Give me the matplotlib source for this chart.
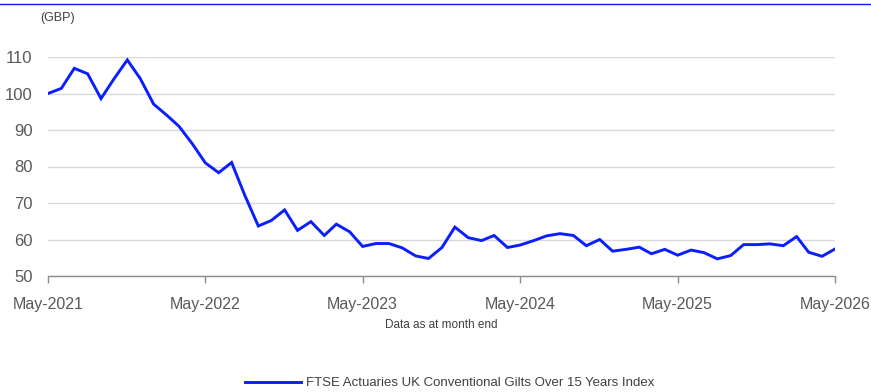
import matplotlib
matplotlib.use("Agg")
import matplotlib.pyplot as plt
import matplotlib.dates as mdates
from matplotlib.lines import Line2D
import pandas as pd

plt.rcParams['font.family'] = ['Liberation Sans', 'DejaVu Sans']

# monthly index values, May-2021 .. May-2026
values = [100.0, 101.4, 106.9, 105.4, 98.6, 104.0, 109.2, 104.1, 97.1, 94.0,
          91.0, 86.2, 81.0, 78.3, 81.1, 72.0, 63.7, 65.2, 68.1, 62.5,
          64.9, 61.1, 64.2, 62.1, 58.1, 58.9, 58.9, 57.7, 55.5, 54.8,
          57.8, 63.4, 60.5, 59.7, 61.1, 57.8, 58.5, 59.7, 61.0, 61.6,
          61.1, 58.3, 60.0, 56.8, 57.3, 57.9, 56.1, 57.3, 55.7, 57.1,
          56.4, 54.7, 55.6, 58.6, 58.6, 58.8, 58.3, 60.8, 56.5, 55.4,
          57.4]
months = pd.date_range('2021-05-01', periods=len(values), freq='MS')
series_name = 'FTSE Actuaries UK Conventional Gilts Over 15 Years Index'
y_ticks = [50, 60, 70, 80, 90, 100, 110]

blue = '#0A1EFF'
grey_txt = '#595959'

fig = plt.figure(figsize=(8.71, 3.92), dpi=100)
ax = fig.add_axes([48/871, 1 - 276/392, (835 - 48)/871, (276 - 57)/392])

ax.plot(months, values, color=blue, lw=2.1, label=series_name, solid_joinstyle='miter')

ax.set_xlim(months[0], months[-1])
ax.set_ylim(50, 110)
ax.set_yticks(y_ticks)
ax.yaxis.grid(True, color='#d9d9d9', lw=1.0)
ax.set_axisbelow(True)
for s in ['top', 'right', 'left']:
    ax.spines[s].set_visible(False)
ax.spines['bottom'].set_color('#8c8c8c')
ax.spines['bottom'].set_linewidth(1.0)

ax.xaxis.set_major_locator(mdates.MonthLocator(bymonth=5))
ax.xaxis.set_major_formatter(mdates.DateFormatter('%b-%Y'))
ax.tick_params(axis='x', colors='#8c8c8c', labelcolor=grey_txt, labelsize=11.5,
               length=5, width=1.0, pad=10)
ax.tick_params(axis='y', length=0, labelcolor=grey_txt, labelsize=12, pad=11)

fig.text(40/871, 1 - 18/392, '(GBP)', fontsize=9, color='#404040', va='center', ha='left')
fig.text(441/871, 1 - 325/392, 'Data as at month end', fontsize=8.5, color='#404040',
         va='center', ha='center')

fig.add_artist(Line2D([0, 1], [1 - 4/392, 1 - 4/392], color=blue, lw=1.0))

fig.legend(loc='center', bbox_to_anchor=(450/871, 1 - 383/392), frameon=False,
           fontsize=9.5, handlelength=4.2, handletextpad=0.4, labelcolor='#404040')

fig.savefig('out.png', dpi=100)
